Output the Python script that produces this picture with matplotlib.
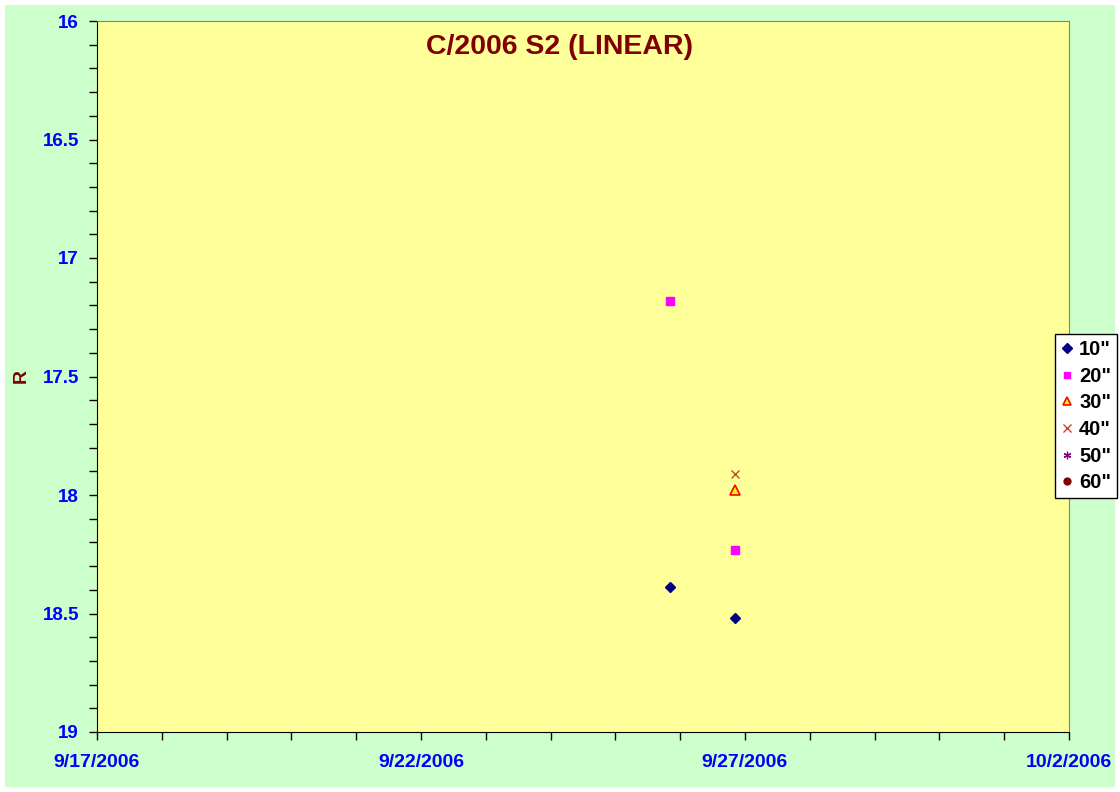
from datetime import datetime
import matplotlib
matplotlib.use("Agg")
import matplotlib.pyplot as plt
import matplotlib.dates as mdates
from matplotlib.patches import Rectangle
from matplotlib.ticker import MultipleLocator, FuncFormatter

plt.rcParams["font.family"] = ["Liberation Sans", "DejaVu Sans"]
plt.rcParams["font.weight"] = "bold"

TITLE = "C/2006 S2 (LINEAR)"
SERIES = ['10"', '20"', '30"', '40"', '50"', '60"']

# observation dates and R magnitudes per aperture
dates_10 = [datetime(2006, 9, 25, 20, 20), datetime(2006, 9, 26, 20, 25)]
mag_10 = [18.39, 18.52]
dates_20 = [datetime(2006, 9, 25, 20, 20), datetime(2006, 9, 26, 20, 25)]
mag_20 = [17.18, 18.23]
dates_30 = [datetime(2006, 9, 26, 20, 25)]
mag_30 = [17.98]
dates_40 = [datetime(2006, 9, 26, 20, 25)]
mag_40 = [17.91]
dates_50 = []
mag_50 = []
dates_60 = []
mag_60 = []

X_START = datetime(2006, 9, 17)
X_END = datetime(2006, 10, 2)
Y_MIN, Y_MAX = 16, 19

fig = plt.figure(figsize=(11.2, 7.92), dpi=100, facecolor="white")
fig.patches.append(Rectangle((5 / 1120, 5 / 792), 1110 / 1120, 782 / 792,
                             transform=fig.transFigure, facecolor="#CCFFCC",
                             edgecolor="none", zorder=-10))
ax = fig.add_axes([97 / 1120, 1 - 732 / 792, 972 / 1120, 711 / 792])
ax.set_facecolor("#FFFF99")

styles = [
    dict(marker="D", color="#000080", mec="#000080", ms=5.5),
    dict(marker="s", color="#FF00FF", mec="#FF00FF", ms=5.5),
    dict(marker="^", color="#FFFF00", mec="#FF0000", ms=6.5, mew=1.2),
    dict(marker="x", color="#FF0000", mec="#D03020", ms=6, mew=0.9),
    dict(marker=(6, 2, 0), color="#800080", mec="#800080", ms=6, mew=0.9),
    dict(marker="o", color="#800000", mec="#800000", ms=5.5),
]
data = [(dates_10, mag_10), (dates_20, mag_20), (dates_30, mag_30),
        (dates_40, mag_40), (dates_50, mag_50), (dates_60, mag_60)]
for label, (d, m), st in zip(SERIES, data, styles):
    ax.plot(d, m, linestyle="none", label=label, clip_on=False, **st)

ax.set_xlim(X_START, X_END)
ax.set_ylim(Y_MAX, Y_MIN)
ax.yaxis.set_major_locator(MultipleLocator(0.5))
ax.yaxis.set_minor_locator(MultipleLocator(0.1))
ax.yaxis.set_major_formatter(FuncFormatter(lambda v, p: f"{v:g}"))
ax.xaxis.set_major_locator(mdates.DayLocator(interval=5))
ax.xaxis.set_minor_locator(mdates.DayLocator())


def fmt_date(v, pos):
    d = mdates.num2date(v)
    return f"{d.month}/{d.day}/{d.year}"


ax.xaxis.set_major_formatter(FuncFormatter(fmt_date))
ax.tick_params(which="both", direction="out", length=6, width=1, color="black")
ax.tick_params(axis="y", labelsize=13.5, labelcolor="#0000FF", pad=7)
ax.tick_params(axis="x", labelsize=14, labelcolor="#0000FF", pad=10)
for lab in ax.get_xticklabels() + ax.get_yticklabels():
    lab.set_fontweight("bold")

for s in ["top", "right"]:
    ax.spines[s].set_color("#808080")
for s in ["left", "bottom"]:
    ax.spines[s].set_color("black")

ax.set_ylabel("R", color="#800000", fontsize=14, fontweight="bold", labelpad=0)
ax.yaxis.set_label_coords(-67 / 972, 0.5)
fig.text(0.5, 1 - 47 / 792, TITLE, ha="center", va="center",
         fontsize=20.5, fontweight="bold", color="#800000")

leg = fig.legend(loc="upper left", bbox_to_anchor=(1055 / 1120, 1 - 334 / 792),
                 frameon=True, fancybox=False, edgecolor="black",
                 facecolor="white", framealpha=1,
                 handlelength=0.6, handletextpad=0.3, borderpad=0.3,
                 labelspacing=0.38, borderaxespad=0, markerscale=0.9,
                 prop={"weight": "bold", "size": 14.5})
leg.get_frame().set_linewidth(1)

fig.savefig("out.png", dpi=100, facecolor=fig.get_facecolor())
